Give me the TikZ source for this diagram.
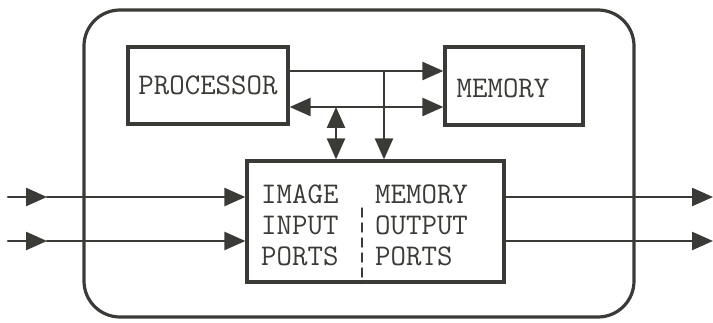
\documentclass[tikz,border=0pt]{standalone}
\usetikzlibrary{arrows.meta}
\definecolor{ink}{HTML}{3A3B36}

\begin{document}
\begin{tikzpicture}[x=1pt,y=1pt,>={Triangle[length=21pt,width=18pt]},
  line cap=round,draw=ink,
  unit/.style={draw=ink,line width=3.2pt,rectangle,inner sep=0pt},
  wire/.style={draw=ink,line width=2.4pt},
  lbl/.style={text=ink,font=\ttfamily\fontsize{30}{31}\selectfont,align=left,inner sep=0pt}]
\useasboundingbox (0,0) rectangle (713,322);
% outer frame
\draw[ink,line width=3.2pt,rounded corners=36pt] (84,5) rectangle (634,312);
% blocks
\node[unit,minimum width=160pt,minimum height=77pt,lbl] (proc) at (208,236.5) {PROCESSOR};
\node[unit,minimum width=138pt,minimum height=78pt] (mem) at (514,236) {};
\node[lbl] (memtxt) at (503,234) {MEMORY};
\node[unit,minimum width=257pt,minimum height=121pt] (ports) at (375.5,100.5) {};
\node[lbl,anchor=north west] (intxt) at (261,137) {IMAGE\\INPUT\\PORTS};
\node[lbl,anchor=north west] (outtxt) at (375,137) {MEMORY\\OUTPUT\\PORTS};
\draw[ink,line width=1.5pt,dash pattern=on 9pt off 6pt] (362,114) -- (ports.south -| 362,0);
% buses
\coordinate (tap) at (384,251);
\coordinate (bus) at (336,215);
\draw[wire,->] (proc.east |- tap) -- (mem.west |- tap);
\draw[wire,<->] (proc.east |- bus) -- (mem.west |- bus);
\draw[wire,->] (tap) -- (tap |- ports.north);
\draw[wire,<->] (bus) -- (bus |- ports.north);
% inputs
\coordinate (in1) at (8,125);
\coordinate (in2) at (8,81);
\coordinate (m1) at (47,125);
\coordinate (m2) at (47,81);
\draw[wire,->] (in1) -- (m1);
\draw[wire,->] (m1) -- (ports.west |- m1);
\draw[wire,->] (in2) -- (m2);
\draw[wire,->] (m2) -- (ports.west |- m2);
% outputs
\coordinate (out1) at (713,125);
\coordinate (out2) at (713,81);
\draw[wire,->] (ports.east |- out1) -- (out1);
\draw[wire,->] (ports.east |- out2) -- (out2);
\end{tikzpicture}
\end{document}
